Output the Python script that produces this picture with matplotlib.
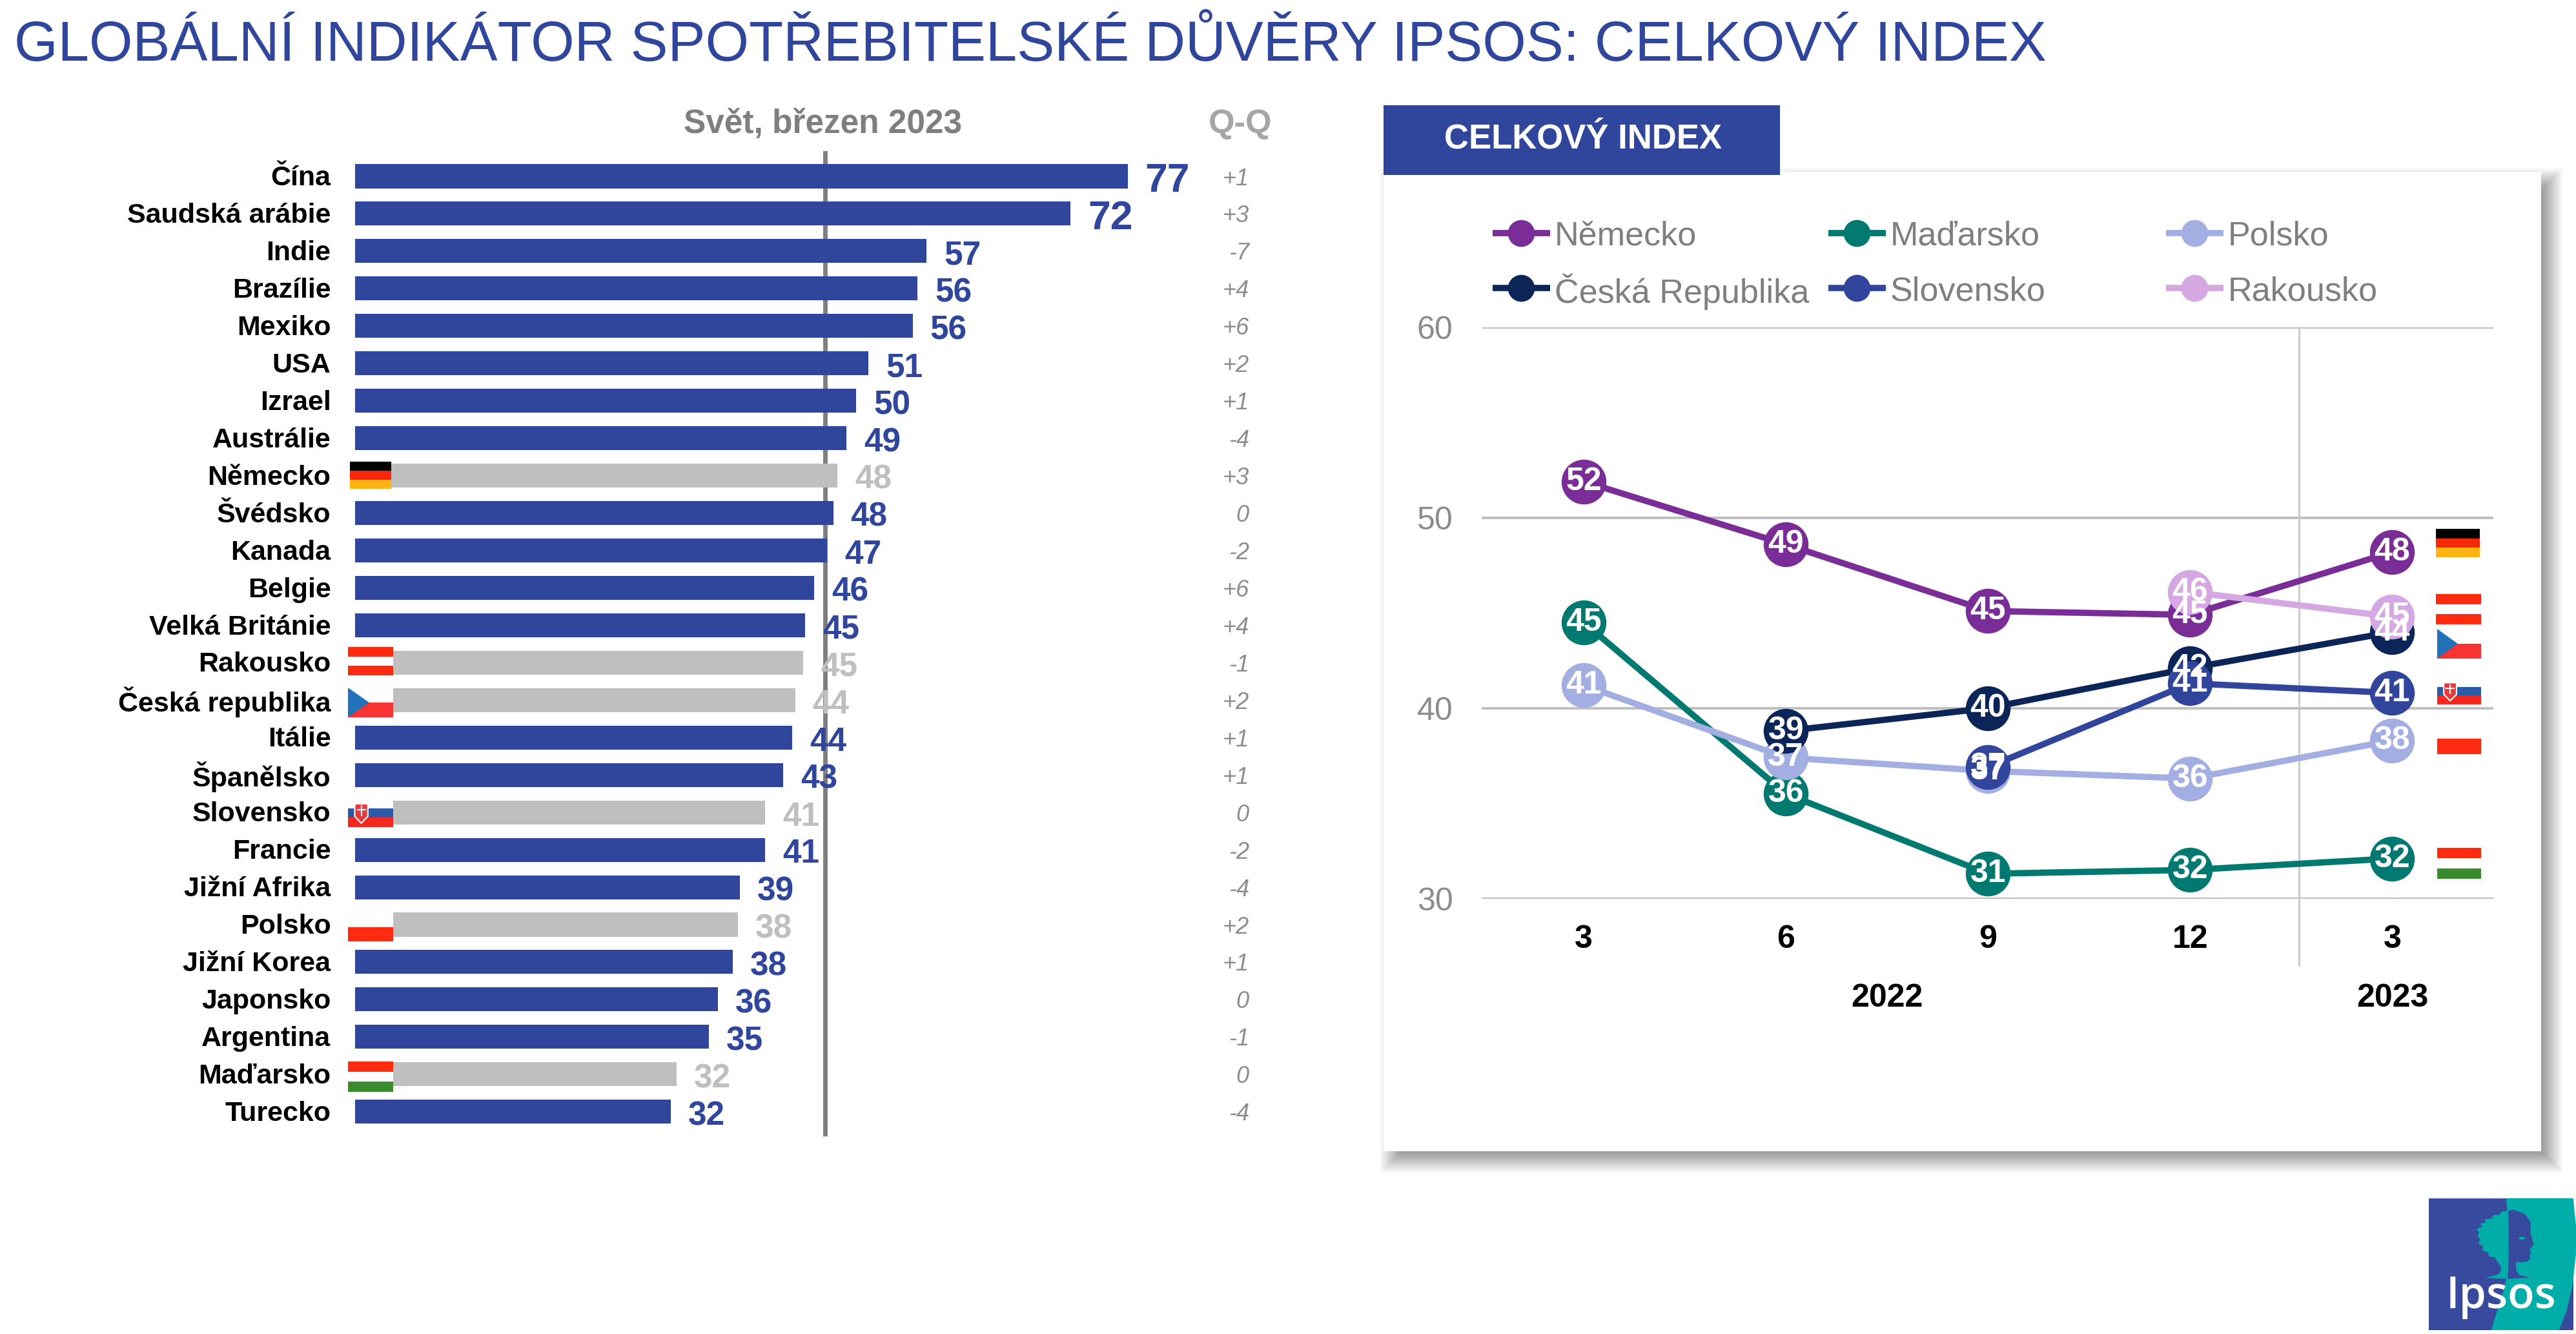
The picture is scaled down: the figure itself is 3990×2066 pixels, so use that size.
import matplotlib
matplotlib.use("Agg")
import matplotlib.pyplot as plt
from matplotlib.patches import Rectangle, Polygon, Ellipse
from matplotlib.lines import Line2D

plt.rcParams['font.family'] = ['Liberation Sans', 'DejaVu Sans']

W, H = 3991, 2066
BLUE = '#2F469C'
GREY = '#BFBFBF'

# levy graf - zeme
countries = ['Čína', 'Saudská arábie', 'Indie', 'Brazílie', 'Mexiko', 'USA', 'Izrael', 'Austrálie',
             'Německo', 'Švédsko', 'Kanada', 'Belgie', 'Velká Británie', 'Rakousko', 'Česká republika',
             'Itálie', 'Španělsko', 'Slovensko', 'Francie', 'Jižní Afrika', 'Polsko', 'Jižní Korea',
             'Japonsko', 'Argentina', 'Maďarsko', 'Turecko']
bar_values = [76.9, 71.2, 56.9, 56.0, 55.5, 51.1, 49.9, 48.9, 48.0, 47.6, 47.0, 45.7, 44.8, 44.6, 43.8,
              43.5, 42.6, 40.8, 40.8, 38.3, 38.1, 37.6, 36.1, 35.2, 32.0, 31.4]
bar_labels = ['77', '72', '57', '56', '56', '51', '50', '49', '48', '48', '47', '46', '45', '45', '44',
              '44', '43', '41', '41', '39', '38', '38', '36', '35', '32', '32']
qq_labels = ['+1', '+3', '-7', '+4', '+6', '+2', '+1', '-4', '+3', '0', '-2', '+6', '+4', '-1', '+2',
             '+1', '+1', '0', '-2', '-4', '+2', '+1', '0', '-1', '0', '-4']
highlighted = ['Německo', 'Rakousko', 'Česká republika', 'Slovensko', 'Polsko', 'Maďarsko']
world_value = 46.8

# pravy graf - casova rada
months = ['3', '6', '9', '12', '3']
germany = [51.9, 48.6, 45.1, 44.9, 48.2]
hungary = [44.5, 35.5, 31.3, 31.5, 32.1]
poland = [41.2, 37.4, 36.7, 36.3, 38.3]
czechia = [None, 38.8, 40.0, 42.1, 44.0]
slovakia = [None, None, 36.9, 41.3, 40.8]
austria = [None, None, None, 46.1, 44.8]
germany_lab = ['52', '49', '45', '45', '48']
hungary_lab = ['45', '36', '31', '32', '32']
poland_lab = ['41', '37', '37', '36', '38']
czechia_lab = [None, '39', '40', '42', '44']
slovakia_lab = [None, None, '37', '41', '41']
austria_lab = [None, None, None, '46', '45']

series = [('Německo', germany, germany_lab, '#7B2D97'),
          ('Maďarsko', hungary, hungary_lab, '#007A71'),
          ('Polsko', poland, poland_lab, '#A3AFE2'),
          ('Česká Republika', czechia, czechia_lab, '#0B2559'),
          ('Slovensko', slovakia, slovakia_lab, '#30459B'),
          ('Rakousko', austria, austria_lab, '#D5A8E4')]

fig = plt.figure(figsize=(W / 100, H / 100), dpi=100, facecolor='white')


def px_axes(x0, y0, x1, y1, **kw):
    # osy zadane v pixelech obrazku (y shora)
    return fig.add_axes([x0 / W, 1 - y1 / H, (x1 - x0) / W, (y1 - y0) / H], **kw)


bg = px_axes(0, 0, W, H, zorder=0)
bg.set_xlim(0, W)
bg.set_ylim(H, 0)
bg.axis('off')
fg = px_axes(0, 0, W, H, zorder=5)
fg.set_xlim(0, W)
fg.set_ylim(H, 0)
fg.axis('off')

bg.text(22, 94, 'GLOBÁLNÍ INDIKÁTOR SPOTŘEBITELSKÉ DŮVĚRY IPSOS: CELKOVÝ INDEX',
        fontsize=62.6, color=BLUE, va='baseline', ha='left')

# karta se stinem
for i in range(40):
    g = 20 - i
    bg.add_patch(Rectangle((2143 + 14 - g, 266 + 14 - g), 3936 - 2143 + 2 * g, 1783 - 266 + 2 * g,
                           fc='black', ec='none', alpha=0.01))
bg.add_patch(Rectangle((2143, 266), 3936 - 2143, 1783 - 266, fc='white', ec='none'))
bg.add_patch(Rectangle((2143, 163), 2757 - 2143, 271 - 163, fc=BLUE, ec='none'))
bg.text(2452, 216, 'CELKOVÝ INDEX', fontsize=38, fontweight='bold', color='white', ha='center', va='center')

# sloupce
ax = px_axes(550, 234, 2010, 1760, zorder=2)
ax.patch.set_alpha(0)
y = list(range(len(countries)))
colors = [GREY if c in highlighted else BLUE for c in countries]
ax.axvline(world_value, color='#7F7F7F', lw=5, zorder=1)
ax.barh(y, bar_values, height=0.64, color=colors, zorder=2)
ax.set_xlim(0, (2010 - 550) / 15.56)
ax.set_ylim(25.66, -0.673)
ax.axis('off')
for i, c in enumerate(countries):
    ax.annotate(c, (0, i), xytext=(-27, 1), textcoords='offset points', ha='right', va='center_baseline',
                fontsize=31, fontweight='bold', color='black')
    big = bar_values[i] > 70
    ax.annotate(bar_labels[i], (bar_values[i], i), xytext=(19.5, -1), textcoords='offset points',
                ha='left', va='center_baseline', fontsize=45 if big else 37, fontweight='bold',
                color=GREY if c in highlighted else BLUE, zorder=3)
    ax.text(89, i, qq_labels[i], ha='right', va='center_baseline', fontsize=26, style='italic', color='#8C8C8C')

bg.text(1275, 193, 'Svět, březen 2023', fontsize=37, fontweight='bold', color='#7F7F7F', ha='center', va='center')
bg.text(1921, 193, 'Q-Q', fontsize=37.5, fontweight='bold', color='#A6A6A6', ha='center', va='center')

# spojnicovy graf
ax2 = px_axes(2295, 507, 3862, 1391.5, zorder=3)
ax2.patch.set_alpha(0)
ax2.set_xlim(-0.505, 4.5)
ax2.set_ylim(30, 60)
for s in ax2.spines.values():
    s.set_visible(False)
ax2.set_yticks([30, 40, 50, 60])
ax2.set_xticks(range(5), months)
ax2.tick_params(axis='both', length=0)
ax2.tick_params(axis='y', labelsize=36, labelcolor='#8C8C8C', pad=32)
ax2.tick_params(axis='x', labelsize=36, labelcolor='black', pad=29)
for lab in ax2.get_xticklabels():
    lab.set_fontweight('bold')
ax2.grid(axis='y', color=GREY, lw=2.8, zorder=0)
ax2.set_axisbelow(True)
ax2.add_line(Line2D([3.54, 3.54], [60, 26.5], color='#C8C8C8', lw=2, clip_on=False, zorder=1))

for name, vals, labs, col in series:
    xs = [i for i, v in enumerate(vals) if v is not None]
    ys = [vals[i] for i in xs]
    ax2.plot(xs, ys, color=col, lw=7, marker='o', ms=50, mec=col, mew=0, zorder=3, clip_on=False)
for name, vals, labs, col in series:
    for i, v in enumerate(vals):
        if v is not None:
            ax2.text(i, v, labs[i], color='white', fontsize=36, fontweight='bold', ha='center', va='center',
                     zorder=4, clip_on=False)

ax2.annotate('2022', (1.5, 30), xytext=(0, -111.5), textcoords='offset points', ha='center', va='center',
             fontsize=36, fontweight='bold')
ax2.annotate('2023', (4, 30), xytext=(0, -111.5), textcoords='offset points', ha='center', va='center',
             fontsize=36, fontweight='bold')

# legenda
leg_x = [2312, 2832, 3355]
leg_y = [361, 446]
for k, (name, vals, labs, col) in enumerate(series):
    lx = leg_x[k % 3]
    ly = leg_y[k // 3]
    bg.add_line(Line2D([lx, lx + 89], [ly, ly], color=col, lw=7, zorder=3, solid_capstyle='butt'))
    bg.plot([lx + 44], [ly], 'o', color=col, ms=30, mew=0, zorder=3)
    bg.text(lx + 96, ly, name, fontsize=37.5, color='#7F7F7F', ha='left', va='center_baseline', zorder=3)


# vlajky
def stripes(x0, y0, x1, y1, cols):
    h = (y1 - y0) / len(cols)
    for k, c in enumerate(cols):
        fg.add_patch(Rectangle((x0, y0 + k * h), x1 - x0, h, fc=c, ec='none'))


def flag(name, x0, y0, x1, y1):
    if name == 'Německo':
        stripes(x0, y0, x1, y1, ['black', '#F7280A', '#FFB310'])
    elif name == 'Rakousko':
        stripes(x0, y0, x1, y1, ['#FF2B10', 'white', '#FF2B10'])
    elif name == 'Polsko':
        stripes(x0, y0, x1, y1, ['white', '#FF2B10'])
    elif name == 'Maďarsko':
        stripes(x0, y0, x1, y1, ['#FF2B10', 'white', '#3A8A2E'])
    elif name == 'Česká republika':
        stripes(x0, y0, x1, y1, ['white', '#F93333'])
        fg.add_patch(Polygon([(x0, y0), (x0 + (x1 - x0) * 0.47, (y0 + y1) / 2), (x0, y1)], fc='#2272B9', ec='none'))
    elif name == 'Slovensko':
        stripes(x0, y0, x1, y1, ['white', '#2A5BA8', '#F4281E'])
        w = x1 - x0
        h = y1 - y0
        fg.add_patch(Polygon([(x0 + 0.15 * w, y0 + 0.18 * h), (x0 + 0.44 * w, y0 + 0.18 * h),
                              (x0 + 0.44 * w, y0 + 0.62 * h), (x0 + 0.295 * w, y0 + 0.86 * h),
                              (x0 + 0.15 * w, y0 + 0.62 * h)], fc='#E8383B', ec='white', lw=1.5))
        fg.add_line(Line2D([x0 + 0.295 * w] * 2, [y0 + 0.26 * h, y0 + 0.58 * h], color='white', lw=1.5))
        fg.add_line(Line2D([x0 + 0.21 * w, x0 + 0.38 * w], [y0 + 0.38 * h] * 2, color='white', lw=1.5))


flag('Německo', 542, 715, 606, 757)
flag('Rakousko', 539, 1002, 609, 1046)
flag('Česká republika', 539, 1065, 609, 1111)
flag('Slovensko', 539, 1237, 609, 1281)
flag('Polsko', 539, 1413, 609, 1458)
flag('Maďarsko', 539, 1644, 609, 1691)

flag('Německo', 3773, 819, 3841, 863)
flag('Rakousko', 3773, 920, 3843, 967)
flag('Česká republika', 3775, 974, 3843, 1020)
flag('Slovensko', 3775, 1050, 3843, 1091)
flag('Polsko', 3775, 1120, 3843, 1168)
flag('Maďarsko', 3775, 1313, 3843, 1361)

# logo
LOGO_BLUE = '#374A9E'
LOGO_TEAL = '#00ADA8'


def logo_pt(u, v):
    # souradnice z vyrezu loga
    return (3740 + u / 2.95, 1840 + v / 3)


fg.add_patch(Rectangle((3762, 1856), 224, 204, fc=LOGO_BLUE, ec='none'))
fg.add_patch(Polygon([logo_pt(*p) for p in [(418, 47), (725, 47), (738, 180), (738, 300), (722, 450), (695, 570),
                                            (660, 660), (350, 660), (405, 480), (425, 400), (432, 300), (428, 150)]],
                     fc=LOGO_TEAL, ec='none'))
# strom vlevo, hlava vpravo
fg.add_patch(Polygon([logo_pt(*p) for p in [(430, 105), (400, 108), (385, 125), (360, 125), (350, 142), (320, 145),
                                            (325, 160), (300, 165), (310, 180), (282, 190), (295, 205), (288, 225),
                                            (300, 240), (292, 258), (312, 270), (310, 290), (335, 298), (340, 318),
                                            (365, 322), (385, 350), (397, 375), (385, 400), (325, 418), (428, 422)]],
                     fc=LOGO_TEAL, ec='none'))
fg.add_patch(Polygon([logo_pt(*p) for p in [(428, 105), (450, 100), (500, 118), (530, 155), (530, 210), (545, 262),
                                            (525, 285), (532, 300), (525, 318), (530, 325), (515, 342), (462, 345),
                                            (465, 385), (480, 405), (528, 416), (425, 422), (432, 300)]],
                     fc=LOGO_BLUE, ec='none'))
fg.add_patch(Ellipse(logo_pt(490, 233), 10, 4.5, fc=LOGO_TEAL, ec='none'))
fg.text(3874, 2026, 'Ipsos', color='white', fontsize=49, fontweight='semibold', family=['Open Sans', 'DejaVu Sans'],
        ha='center', va='baseline')

fig.savefig('out.png', dpi=100, facecolor='white')
